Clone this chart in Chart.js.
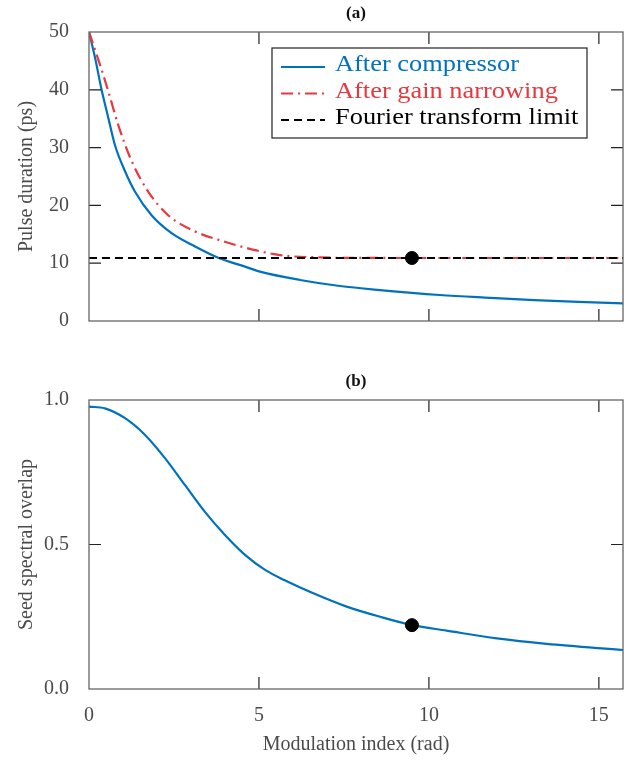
<!DOCTYPE html>
<html>
<head>
<meta charset="utf-8">
<script src="https://cdn.jsdelivr.net/npm/chart.js@4.4.1/dist/chart.umd.min.js"></script>
<style>
    body { margin: 0; background: #ffffff; }
    #wrapA { position: absolute; left: 0; top: 0; width: 639px; height: 335px; }
    #wrapB { position: absolute; left: 0; top: 335px; width: 639px; height: 427px; }
</style>
</head>
<body>
<div id="wrapA"><canvas id="durationChart" width="639" height="335"></canvas></div>
<div id="wrapB"><canvas id="overlapChart" width="639" height="427"></canvas></div>
<script>
// values, x = modulation index (rad)
const compX  = [0, 0.18, 0.37, 0.57, 0.76, 1.06, 1.35, 1.84, 2.43, 3.12, 3.8, 4.59, 5.03, 6.21, 7.38, 8.56, 10.32, 11.8, 13.1, 14.4, 15.71];
const compPs = [50, 45.5, 40, 35.1, 30.5, 25.9, 22.4, 18.3, 15.2, 12.9, 10.95, 9.4, 8.54, 7.1, 6.05, 5.35, 4.5, 4.0, 3.6, 3.3, 3.05];

const gainX  = [0, 0.32, 0.57, 0.86, 1.26, 1.74, 2.33, 3.12, 4.0, 4.59, 5.62, 6.79, 8.0, 10.0, 12.0, 14.0, 15.71];
const gainPs = [50, 44.4, 39.7, 33.9, 27.6, 22.4, 18.3, 15.5, 13.7, 12.7, 11.4, 11.0, 10.92, 10.9, 10.9, 10.9, 10.9];

const ftX  = [0, 15.71];
const ftPs = [10.9, 10.9];

const markX = [9.5];
const markPs = [10.9];
const markOverlap = [0.221];

const overlapX   = [0, 0.47, 1.06, 1.65, 2.24, 2.82, 3.41, 4.0, 4.59, 5.18, 5.76, 6.6, 7.58, 8.56, 9.51, 10.52, 12.0, 13.46, 15.71];
const overlapVal = [0.977, 0.971, 0.937, 0.879, 0.798, 0.706, 0.613, 0.533, 0.464, 0.412, 0.376, 0.331, 0.285, 0.25, 0.221, 0.202, 0.175, 0.156, 0.135];

const xTicks = [0, 5, 10, 15];
const psTicks = [0, 10, 20, 30, 40, 50];
const overlapTicks = [0, 0.5, 1];
const xMax = 15.71;

const serif = '"Liberation Serif", "Times New Roman", serif';
const blue = "#0072bd";
const red = "#e8383d";
const grey = "#4a4a4a";

function pts(xs, ys) {
    return xs.map(function (x, i) { return { x: x, y: ys[i] }; });
}

function setTicks(list) {
    return function (scale) {
        scale.ticks = list.map(function (v) { return { value: v }; });
    };
}

// fixed left gutter, and no extra room reserved for the end labels
function yGutter(scale) {
    scale.width = 89;
    scale.paddingTop = 0;
    scale.paddingBottom = 0;
}

// box frame, inward ticks on all four sides, panel label
const frameTicks = {
    id: "frameTicks",
    afterDatasetsDraw(chart, args, opts) {
        const ctx = chart.ctx;
        const a = chart.chartArea;
        const sx = chart.scales.x;
        const sy = chart.scales.y;
        ctx.save();
        ctx.strokeStyle = "#222";
        ctx.lineWidth = 1.2;
        ctx.beginPath();
        sx.ticks.forEach(function (t) {
            const px = sx.getPixelForValue(t.value);
            if (px <= a.left + 1 || px >= a.right - 1) return;
            ctx.moveTo(px, a.bottom); ctx.lineTo(px, a.bottom - 12);
            ctx.moveTo(px, a.top); ctx.lineTo(px, a.top + 12);
        });
        sy.ticks.forEach(function (t) {
            const py = sy.getPixelForValue(t.value);
            if (py <= a.top + 1 || py >= a.bottom - 1) return;
            ctx.moveTo(a.left, py); ctx.lineTo(a.left + 12, py);
            ctx.moveTo(a.right, py); ctx.lineTo(a.right - 12, py);
        });
        ctx.stroke();
        ctx.strokeStyle = "#666";
        ctx.lineWidth = 1.3;
        ctx.strokeRect(a.left, a.top, a.right - a.left, a.bottom - a.top);

        ctx.fillStyle = "#111";
        ctx.font = "bold 17px " + serif;
        ctx.textAlign = "center";
        ctx.textBaseline = "middle";
        ctx.fillText(opts.label, (a.left + a.right) / 2, a.top - 18);
        ctx.restore();
    }
};

// boxed legend inside the top panel
const boxLegend = {
    id: "boxLegend",
    afterDraw(chart, args, opts) {
        const ctx = chart.ctx;
        const a = chart.chartArea;
        const left = a.left + opts.offsetX;
        const top = a.top + opts.offsetY;
        const items = chart.data.datasets.filter(function (d) { return d.inLegend; });
        ctx.save();
        ctx.fillStyle = "#fff";
        ctx.fillRect(left, top, opts.width, opts.height);
        ctx.strokeStyle = "#222";
        ctx.lineWidth = 1.2;
        ctx.strokeRect(left, top, opts.width, opts.height);
        ctx.font = "24px " + serif;
        ctx.textBaseline = "alphabetic";
        items.forEach(function (d, i) {
            const y = top + 19 + i * 26.5;
            ctx.setLineDash(d.borderDash || []);
            ctx.strokeStyle = d.borderColor;
            ctx.lineWidth = d.borderWidth;
            ctx.beginPath();
            ctx.moveTo(left + 9, y);
            ctx.lineTo(left + 53, y);
            ctx.stroke();
            ctx.setLineDash([]);
            ctx.fillStyle = d.textColor;
            ctx.save();
            ctx.translate(left + 63, y + 4);
            ctx.scale(1.1, 1);
            ctx.fillText(d.label, 0, 0);
            ctx.restore();
        });
        ctx.restore();
    }
};

document.addEventListener("DOMContentLoaded", function () {
    const durationCanvas = document.getElementById("durationChart");
    new Chart(durationCanvas.getContext("2d"), {
        type: "scatter",
        data: {
            datasets: [
                {
                    label: "After compressor",
                    data: pts(compX, compPs),
                    showLine: true,
                    borderColor: blue,
                    textColor: blue,
                    borderWidth: 2.2,
                    pointRadius: 0,
                    cubicInterpolationMode: "monotone",
                    inLegend: true,
                    order: 3
                },
                {
                    label: "After gain narrowing",
                    data: pts(gainX, gainPs),
                    showLine: true,
                    borderColor: red,
                    textColor: red,
                    borderWidth: 2.2,
                    borderDash: [12, 5, 2, 5],
                    pointRadius: 0,
                    cubicInterpolationMode: "monotone",
                    inLegend: true,
                    order: 2
                },
                {
                    label: "Fourier transform limit",
                    data: pts(ftX, ftPs),
                    showLine: true,
                    borderColor: "#000",
                    textColor: "#000",
                    borderWidth: 2,
                    borderDash: [8, 5],
                    pointRadius: 0,
                    inLegend: true,
                    order: 1
                },
                {
                    label: "operating point",
                    data: pts(markX, markPs),
                    pointRadius: 6.5,
                    pointBackgroundColor: "#000",
                    pointBorderColor: "#000",
                    order: 0
                }
            ]
        },
        options: {
            responsive: false,
            animation: false,
            layout: { padding: { top: 32, right: 16, left: 0, bottom: 0 } },
            scales: {
                x: {
                    type: "linear",
                    min: 0,
                    max: xMax,
                    afterBuildTicks: setTicks(xTicks),
                    ticks: { display: false },
                    grid: { display: false },
                    border: { display: false },
                    afterFit: function (s) { s.height = 14; }
                },
                y: {
                    min: 0,
                    max: 50,
                    afterBuildTicks: setTicks(psTicks),
                    ticks: { color: grey, font: { family: serif, size: 20 }, padding: 12 },
                    grid: { display: false },
                    border: { display: false },
                    title: {
                        display: true,
                        text: "Pulse duration (ps)",
                        color: grey,
                        font: { family: serif, size: 20 },
                        padding: { top: 15, bottom: 0 }
                    },
                    afterFit: yGutter
                }
            },
            plugins: {
                legend: { display: false },
                tooltip: { enabled: false },
                frameTicks: { label: "(a)" },
                boxLegend: { offsetX: 183, offsetY: 16, width: 315, height: 90 }
            }
        },
        plugins: [frameTicks, boxLegend]
    });

    const overlapCanvas = document.getElementById("overlapChart");
    new Chart(overlapCanvas.getContext("2d"), {
        type: "scatter",
        data: {
            datasets: [
                {
                    label: "operating point",
                    data: pts(markX, markOverlap),
                    pointRadius: 6.5,
                    pointBackgroundColor: "#000",
                    pointBorderColor: "#000",
                    order: 0
                },
                {
                    label: "Seed spectral overlap",
                    data: pts(overlapX, overlapVal),
                    showLine: true,
                    borderColor: blue,
                    borderWidth: 2.2,
                    pointRadius: 0,
                    cubicInterpolationMode: "monotone",
                    order: 1
                }
            ]
        },
        options: {
            responsive: false,
            animation: false,
            layout: { padding: { top: 65, right: 16, left: 0, bottom: 0 } },
            scales: {
                x: {
                    type: "linear",
                    min: 0,
                    max: xMax,
                    afterBuildTicks: setTicks(xTicks),
                    ticks: { color: grey, font: { family: serif, size: 20 }, padding: 7 },
                    grid: { display: false },
                    border: { display: false },
                    title: {
                        display: true,
                        text: "Modulation index (rad)",
                        color: grey,
                        font: { family: serif, size: 20 },
                        padding: { top: 0, bottom: 5 }
                    },
                    afterFit: function (s) { s.height = 73; }
                },
                y: {
                    min: 0,
                    max: 1,
                    afterBuildTicks: setTicks(overlapTicks),
                    ticks: {
                        color: grey,
                        font: { family: serif, size: 20 },
                        padding: 12,
                        callback: function (v) { return Number(v).toFixed(1); }
                    },
                    grid: { display: false },
                    border: { display: false },
                    title: {
                        display: true,
                        text: "Seed spectral overlap",
                        color: grey,
                        font: { family: serif, size: 20 },
                        padding: { top: 15, bottom: 0 }
                    },
                    afterFit: yGutter
                }
            },
            plugins: {
                legend: { display: false },
                tooltip: { enabled: false },
                frameTicks: { label: "(b)" }
            }
        },
        plugins: [frameTicks]
    });
});
</script>
</body>
</html>
